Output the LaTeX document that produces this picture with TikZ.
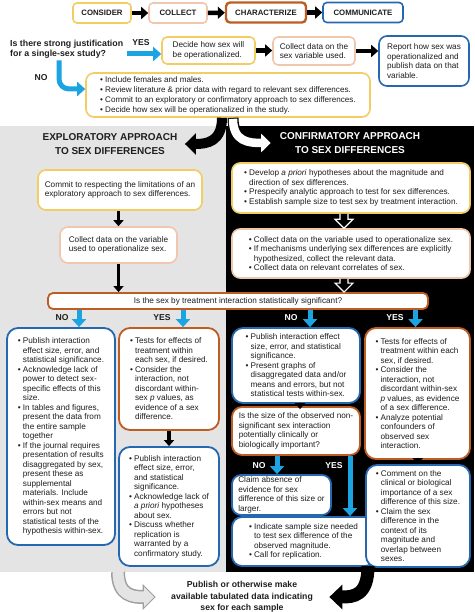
\documentclass[tikz,border=0pt]{standalone}
\usepackage{fontspec}
\setmainfont{Liberation Sans}
\usetikzlibrary{arrows.meta,calc}

\definecolor{cyel}{RGB}{242,205,100}
\definecolor{cpch}{RGB}{240,198,172}
\definecolor{corg}{RGB}{189,93,36}
\definecolor{cblu}{RGB}{38,104,176}
\definecolor{ccyn}{RGB}{28,164,226}
\definecolor{cgry}{RGB}{228,228,228}
\definecolor{ctxt}{RGB}{30,30,30}

\newcommand{\bu}{\makebox[5pt][l]{\textbullet}}
\newcommand{\ct}{\hspace*{5pt}}

\tikzset{
	box/.style={draw=#1, fill=white, rounded corners=5pt, line width=1.6pt, align=left, inner xsep=3pt, inner ysep=1pt, font=\fontsize{8.2}{9.5}\selectfont, text=ctxt},
	hdr/.style={draw=#1, fill=white, rounded corners=4pt, line width=1.6pt, minimum width=58pt, minimum height=20pt, inner sep=1pt, font=\fontsize{7.8}{9}\selectfont\bfseries, text=ctxt},
	lbl/.style={font=\fontsize{8.6}{10}\selectfont\bfseries, text=ctxt},
	ttl/.style={font=\fontsize{10}{14}\selectfont\bfseries, align=center},
	blk/.style={line width=4.5pt, -{Triangle[length=7pt,width=12pt]}},
	blks/.style={line width=3.5pt, -{Triangle[length=6pt,width=10pt]}},
	cy/.style={color=ccyn, line width=5pt, -{Triangle[length=8pt,width=14pt]}},
	wout/.style={draw=white, fill=black, line width=1.2pt},
}

\begin{document}
\begin{tikzpicture}[x=1pt,y=1pt,yscale=-1]
	\useasboundingbox (0,0) rectangle (474,612);

	%Shape: Rectangle [exploratory panel]
	\fill[cgry] (0,126) rectangle (226,572);
	%Shape: Rectangle [confirmatory panel]
	\fill[black] (226,126) rectangle (474,572);

	% Header row
	\node[hdr=cyel] (consider) at (102,13) {CONSIDER};
	\node[hdr=cpch] (collect) at (178,13) {COLLECT};
	\node[hdr=corg, line width=2.4pt, minimum width=80pt] (charact) at (266,12.5) {CHARACTERIZE};
	\node[hdr=cblu, minimum width=80pt] (communicate) at (363,12.5) {COMMUNICATE};
	\draw[blk] (consider) -- (collect);
	\draw[blk] (collect) -- (charact);
	\draw[blk] (charact) -- (communicate);

	% Text Node
	\node[anchor=west, align=left, inner sep=1pt, font=\fontsize{8.8}{10}\selectfont\bfseries, text=ctxt] (qtext) at (9,49) {Is there strong justification\\for a single-sex study?};
	\node[lbl] (yes0) at (141,43) {YES};
	\node[lbl] (no0) at (41,78) {NO};

	\node[box=cyel, minimum width=93pt, minimum height=27pt] (decide) at (208.5,50.5) {Decide how sex will\\be operationalized.};
	\node[box=cpch, minimum width=82pt, minimum height=28pt] (collectvar) at (314,51) {Collect data on the\\sex variable used.};
	\node[box=cblu, rounded corners=8pt, minimum width=90pt, minimum height=50pt] (report) at (424,61) {Report how sex was\\operationalized and\\publish data on that\\variable.};
	\node[box=cyel, rounded corners=8pt, minimum width=284pt, minimum height=44pt, font=\fontsize{8.1}{10}\selectfont] (plan) at (228,95) {\bu Include females and males.\\
		\bu Review literature \& prior data with regard to relevant sex differences.\\
		\bu Commit to an exploratory or confirmatory approach to sex differences.\\
		\bu Decide how sex will be operationalized in the study.};

	\draw[cy] ($(qtext.east)+(3,5)$) -- ($(qtext.east -| decide.west)+(0,5)$);
	\draw[blk] (decide.east) -- (decide.east -| collectvar.west);
	\draw[blk] (collectvar.east) -- (collectvar.east -| report.west);
	\draw[cy, rounded corners=10pt] ($(qtext.south west)+(50,1)$) |- ($(plan.west)+(0,-6)$);

	% Panel titles
	\node[ttl, text=ctxt] (exptitle) at (110,144) {EXPLORATORY APPROACH\\TO SEX DIFFERENCES};
	\node[ttl, text=white] (conftitle) at (350,143) {CONFIRMATORY APPROACH\\TO SEX DIFFERENCES};

	%Curve Lines [split]
	\draw[line width=10pt, -{Triangle[length=11pt,width=21pt]}] ($(plan.south)+(-6,0)$) .. controls +(0,24) and +(22,0) .. ($(exptitle.east)+(4,0)$);
	\draw[line width=11pt, -{Triangle[length=12pt,width=22pt]}] ($(plan.south)+(5,0)$) .. controls +(0,24) and +(-22,0) .. ($(conftitle.west)+(-4,0)$);
	\draw[white, line width=8.5pt, -{Triangle[length=9.5pt,width=18pt]}] ($(plan.south)+(5,1)$) .. controls +(0,23) and +(-22,0) .. ($(conftitle.west)+(-5.6,0)$);

	% Exploratory column
	\node[box=cyel, rounded corners=8pt, minimum width=164pt, minimum height=40pt] (commit) at (120,190) {Commit to respecting the limitations of an\\exploratory approach to sex differences.};
	\node[box=cpch, rounded corners=8pt, minimum width=117pt, minimum height=36pt] (collectop) at (118.5,245) {Collect data on the variable\\used to operationalize sex.};

	% Confirmatory column
	\node[box=cyel, rounded corners=8pt, minimum width=238pt, minimum height=50pt] (hyp) at (351,188) {\bu Develop \textit{a priori} hypotheses about the magnitude and\\
		\ct direction of sex differences.\\
		\bu Prespecify analytic approach to test for sex differences.\\
		\bu Establish sample size to test sex by treatment interaction.};
	\node[box=cpch, rounded corners=8pt, minimum width=238pt, minimum height=49pt] (coll) at (351,253.5) {\bu Collect data on the variable used to operationalize sex.\\
		\bu If mechanisms underlying sex differences are explicitly\\
		\ct hypothesized, collect the relevant data.\\
		\bu Collect data on relevant correlates of sex.};

	\node[box=corg, align=center, line width=1.8pt, minimum width=380pt, minimum height=16pt] (quest) at (238,301) {Is the sex by treatment interaction statistically significant?};

	\draw[blks] (commit.south -| collectop.north) -- (collectop.north);
	\draw[blks] (collectop.south) -- (collectop.south |- quest.north);
	\draw[wout] ($(hyp.south)+(-11,0)$) -- ($(coll.north)+(-11,-9)$) -- ($(coll.north)+(-16,-9)$) -- ($(coll.north)+(-7,0)$) -- ($(coll.north)+(2,-9)$) -- ($(coll.north)+(-3,-9)$) -- ($(hyp.south)+(-3,0)$);
	\draw[wout] ($(coll.south)+(-11,0)$) -- ($(coll.south |- quest.north)+(-11,-9)$) -- ($(coll.south |- quest.north)+(-16,-9)$) -- ($(coll.south |- quest.north)+(-7,0)$) -- ($(coll.south |- quest.north)+(2,-9)$) -- ($(coll.south |- quest.north)+(-3,-9)$) -- ($(coll.south)+(-3,0)$);

	% Lower boxes
	\node[box=cblu, rounded corners=11pt, line width=1.8pt, minimum width=108pt, minimum height=217pt] (exppub) at (61,436.5) {\bu Publish interaction\\
		\ct effect size, error, and\\
		\ct statistical significance.\\
		\bu Acknowledge lack of\\
		\ct power to detect sex-\\
		\ct specific effects of this\\
		\ct size.\\
		\bu In tables and figures,\\
		\ct present the data from\\
		\ct the entire sample\\
		\ct together\\
		\bu If the journal requires\\
		\ct presentation of results\\
		\ct disaggregated by sex,\\
		\ct present these as\\
		\ct supplemental\\
		\ct materials. Include\\
		\ct within-sex means and\\
		\ct errors but not\\
		\ct statistical tests of the\\
		\ct hypothesis within-sex.};
	\node[box=corg, rounded corners=11pt, line width=1.8pt, minimum width=100pt, minimum height=102pt] (exptest) at (169,379) {\bu Tests for effects of\\
		\ct treatment within\\
		\ct each sex, if desired.\\
		\bu Consider the\\
		\ct interaction, not\\
		\ct discordant within-\\
		\ct sex \textit{p} values, as\\
		\ct evidence of a sex\\
		\ct difference.};
	\node[box=cblu, rounded corners=11pt, line width=1.8pt, minimum width=100pt, minimum height=119pt] (exppub2) at (169,506.5) {\bu Publish interaction\\
		\ct effect size, error,\\
		\ct and statistical\\
		\ct significance.\\
		\bu Acknowledge lack of\\
		\ct \textit{a priori} hypotheses\\
		\ct about sex.\\
		\bu Discuss whether\\
		\ct replication is\\
		\ct warranted by a\\
		\ct confirmatory study.};
	\node[box=cblu, rounded corners=11pt, line width=1.8pt, minimum width=128pt, minimum height=75pt] (confpub) at (296,365.5) {\bu Publish interaction effect\\
		\ct size, error, and statistical\\
		\ct significance.\\
		\bu Present graphs of\\
		\ct disaggregated data and/or\\
		\ct means and errors, but not\\
		\ct statistical tests within-sex.};
	\node[box=corg, rounded corners=10pt, line width=1.8pt, minimum width=128pt, minimum height=48pt] (confsize) at (296,431) {Is the size of the observed non-\\significant sex interaction\\potentially clinically or\\biologically important?};
	\node[box=cblu, rounded corners=9pt, line width=1.8pt, minimum width=99pt, minimum height=40pt] (confabs) at (281.5,495) {Claim absence of\\evidence for sex\\difference of this size or\\larger.};
	\node[box=cblu, rounded corners=10pt, line width=1.8pt, minimum width=143pt, minimum height=49pt] (confrep) at (303.5,541.5) {\bu Indicate sample size needed\\
		\ct to test sex difference of the\\
		\ct observed magnitude.\\
		\bu Call for replication.};
	\node[box=corg, rounded corners=11pt, line width=1.8pt, minimum width=105pt, minimum height=131pt] (conftest) at (417.5,393.5) {\bu Tests for effects of\\
		\ct treatment within each\\
		\ct sex, if desired.\\
		\bu Consider the\\
		\ct interaction, not\\
		\ct discordant within-sex\\
		\ct \textit{p} values, as evidence\\
		\ct of a sex difference.\\
		\bu Analyze potential\\
		\ct confounders of\\
		\ct observed sex\\
		\ct interaction.};
	\node[box=cblu, rounded corners=11pt, line width=1.8pt, minimum width=104pt, minimum height=102pt] (confcom) at (418,516) {\bu Comment on the\\
		\ct clinical or biological\\
		\ct importance of a sex\\
		\ct difference of this size.\\
		\bu Claim the sex\\
		\ct difference in the\\
		\ct context of its\\
		\ct magnitude and\\
		\ct overlap between\\
		\ct sexes.};

	% YES / NO labels
	\node[lbl] (no1) at (62,318) {NO};
	\node[lbl] (yes1) at (162,318) {YES};
	\node[lbl, text=white] (no2) at (291,318) {NO};
	\node[lbl, text=white] (yes2) at (395,318) {YES};
	\node[lbl, text=white] (no3) at (259,466) {NO};
	\node[lbl, text=white] (yes3) at (334,466) {YES};

	\draw[cy] ($(quest.south -| exppub.north)+(18,0)$) -- ($(exppub.north)+(18,0)$);
	\draw[cy] ($(quest.south -| exptest.north)+(14,0)$) -- ($(exptest.north)+(14,0)$);
	\draw[cy] ($(quest.south -| confpub.north)+(14,0)$) -- ($(confpub.north)+(14,0)$);
	\draw[cy] ($(quest.south -| conftest.north)+(-2,0)$) -- ($(conftest.north)+(-2,0)$);
	\draw[cy] ($(confsize.south -| confabs.north)+(-4.5,0)$) -- ($(confabs.north)+(-4.5,0)$);
	\draw[cy] ($(confsize.south -| confrep.north)+(46.5,0)$) -- ($(confrep.north)+(46.5,0)$);

	\draw[blks] (exptest) -- (exppub2);
	\draw[blks] ($(confpub.south)+(4,-1)$) -- ($(confsize.north)+(4,3)$);
	\draw[blks] (conftest) -- (confcom);

	% Text Node
	\node[align=center, font=\fontsize{8.7}{11.7}\selectfont\bfseries, text=ctxt] (final) at (242,597) {Publish or otherwise make\\available tabulated data indicating\\sex for each sample};

	\coordinate (gfoot) at (118,572);
	\coordinate (bfoot) at (368,566);
	%Curve Lines [merge]
	\draw[color=gray!75, line width=14pt, -{Triangle[length=13pt,width=25pt]}] (gfoot) .. controls +(0,24) and +(-22,0) .. ($(final.west)+(-12,0)$);
	\draw[color=cgry, line width=11pt, -{Triangle[length=10pt,width=19.5pt]}] ($(gfoot)+(0,-1)$) .. controls +(0,25) and +(-22,0) .. ($(final.west)+(-13.6,0)$);
	\draw[line width=13pt, -{Triangle[length=13pt,width=24pt]}] (bfoot) .. controls +(0,30) and +(24,0) .. ($(final.east)+(13,0)$);
\end{tikzpicture}
\end{document}
